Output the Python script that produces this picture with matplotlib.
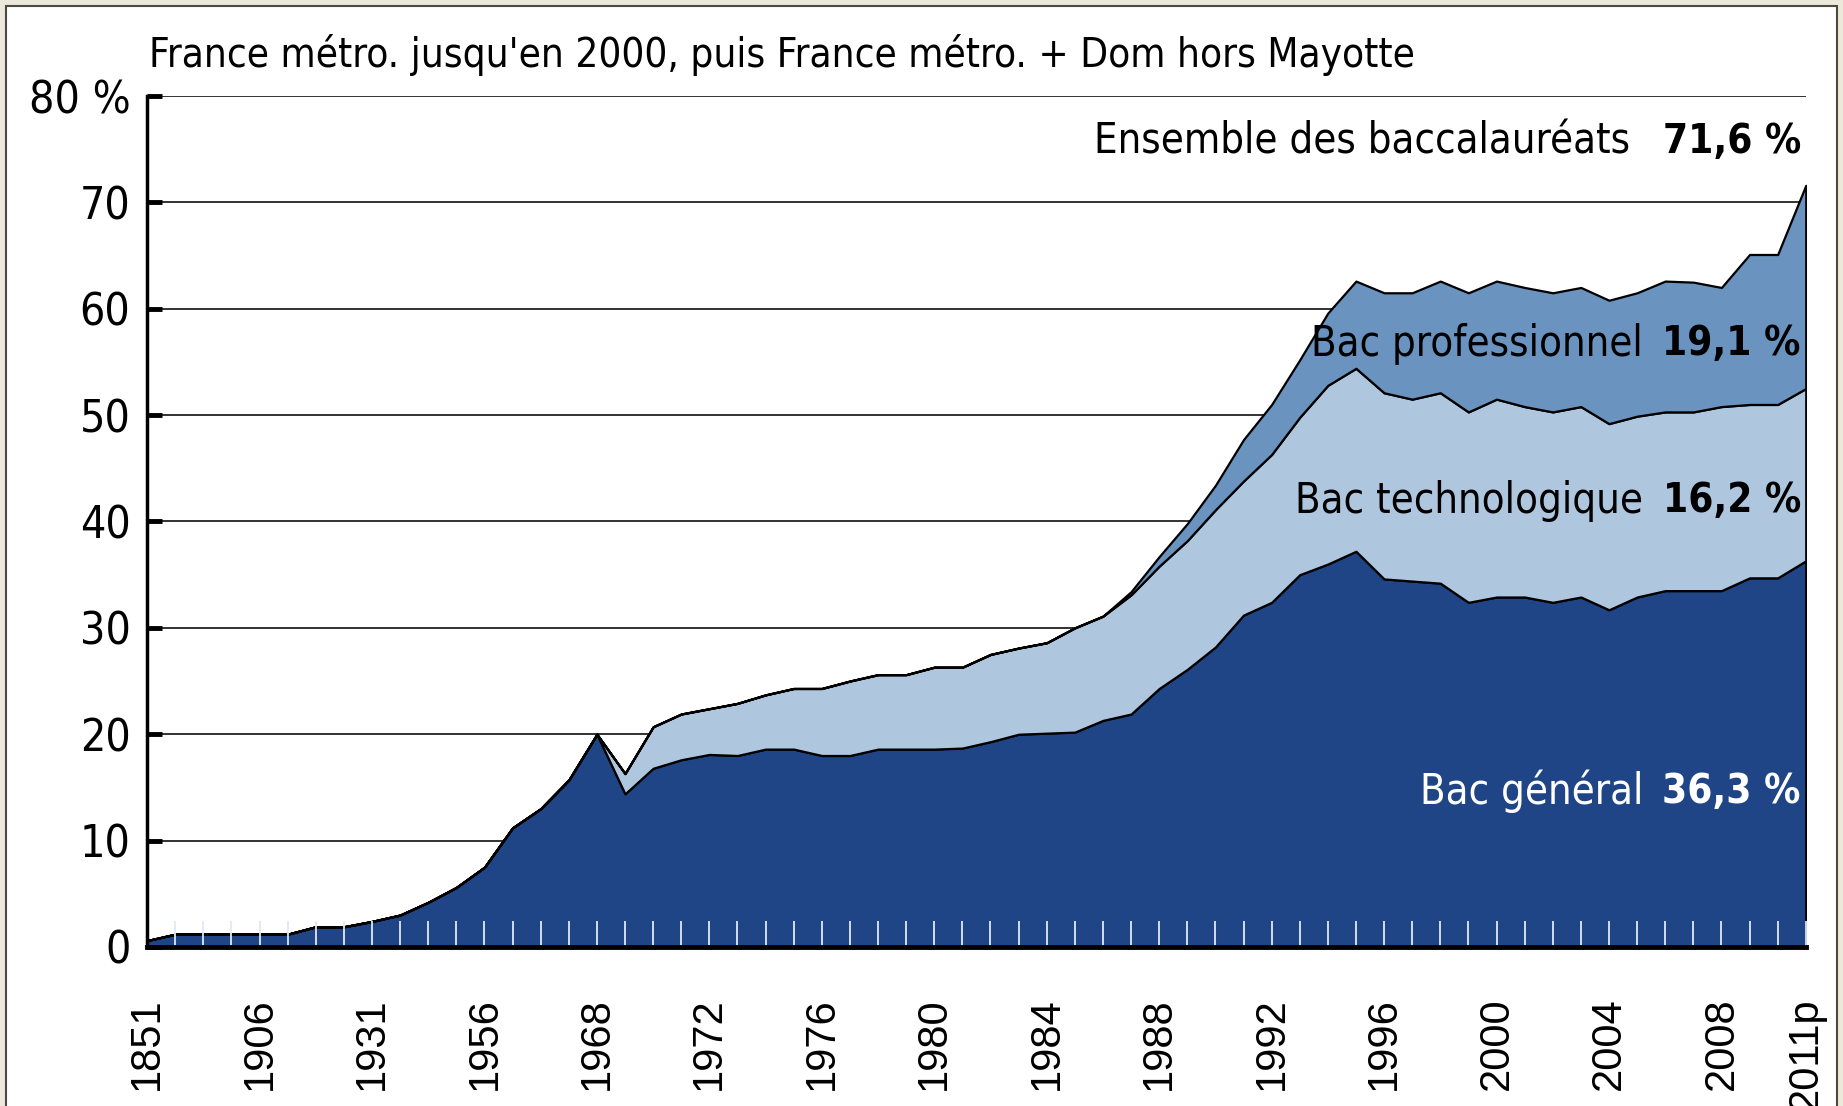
import matplotlib
matplotlib.use("Agg")
import matplotlib.pyplot as plt
from matplotlib import font_manager
from matplotlib.font_manager import FontProperties
from matplotlib.patches import Rectangle

# Étiquettes de l'axe des x (une position par point)
annees = ["1851", "", "", "", "1906", "", "", "", "1931", "", "", "", "1956",
          "", "", "", "1968", "", "", "", "1972", "", "", "", "1976", "", "",
          "", "1980", "", "", "", "1984", "", "", "", "1988", "", "", "",
          "1992", "", "", "", "1996", "", "", "", "2000", "", "", "", "2004",
          "", "", "", "2008", "", "", "2011p"]

# Proportion de bacheliers dans une génération (%)
bac_general = [0.6, 1.2, 1.2, 1.2, 1.2, 1.2, 1.9, 1.9, 2.4, 3.0,
               4.2, 5.6, 7.5, 11.2, 13.0, 15.7, 20.0, 14.4, 16.8, 17.6,
               18.1, 18.0, 18.6, 18.6, 18.0, 18.0, 18.6, 18.6, 18.6, 18.7,
               19.3, 20.0, 20.1, 20.2, 21.3, 21.9, 24.3, 26.1, 28.2, 31.2,
               32.4, 35.0, 36.0, 37.2, 34.6, 34.4, 34.2, 32.4, 32.9, 32.9,
               32.4, 32.9, 31.7, 32.9, 33.5, 33.5, 33.5, 34.7, 34.7, 36.3]
bac_techno = [0, 0, 0, 0, 0, 0, 0, 0, 0, 0,
              0, 0, 0, 0, 0, 0, 0, 1.9, 3.9, 4.3,
              4.3, 4.9, 5.1, 5.7, 6.3, 7.0, 7.0, 7.0, 7.7, 7.6,
              8.2, 8.1, 8.5, 9.8, 9.8, 11.2, 11.5, 12.1, 12.9, 12.6,
              13.9, 14.8, 16.8, 17.2, 17.5, 17.1, 17.9, 17.9, 18.6, 17.9,
              17.9, 17.9, 17.5, 17.0, 16.8, 16.8, 17.3, 16.3, 16.3, 16.2]
bac_pro = [0, 0, 0, 0, 0, 0, 0, 0, 0, 0,
           0, 0, 0, 0, 0, 0, 0, 0, 0, 0,
           0, 0, 0, 0, 0, 0, 0, 0, 0, 0,
           0, 0, 0, 0, 0, 0.3, 0.9, 1.6, 2.3, 3.9,
           4.7, 5.4, 6.8, 8.2, 9.4, 10.0, 10.5, 11.2, 11.1, 11.2,
           11.2, 11.2, 11.6, 11.6, 12.3, 12.2, 11.2, 14.1, 14.1, 19.1]

graduations = [0, 10, 20, 30, 40, 50, 60, 70, 80]
etiquettes_y = ["0", "10", "20", "30", "40", "50", "60", "70", "80 %"]

couleurs = ["#1f4587", "#afc7de", "#6a93bf"]

# Recherche d'une police étroite (condensed / narrow)
etroites = [f for f in font_manager.fontManager.ttflist
            if f.stretch in ("condensed", "semi-condensed", "extra-condensed")
            or "Narrow" in f.name or "Condensed" in f.name]
normal = [f for f in etroites if f.weight in (400, "normal", "regular") and f.style == "normal"]
gras = [f for f in etroites if f.weight in (700, "bold") and f.style == "normal"]
if normal:
    fp = lambda taille: FontProperties(fname=normal[0].fname, size=taille)
    fpb = (lambda taille: FontProperties(fname=gras[0].fname, size=taille)) if gras \
        else (lambda taille: FontProperties(fname=normal[0].fname, size=taille, weight="bold"))
    k = 1.0
else:
    fp = lambda taille: FontProperties(family="Roboto", size=taille)
    fpb = lambda taille: FontProperties(family="Roboto", size=taille, weight="bold")
    k = 0.9

x = list(range(len(annees)))

fig = plt.figure(figsize=(18.43, 11.06), dpi=100)
fig.patch.set_facecolor("#ece9da")
# cadre blanc
cadre = Rectangle((6 / 1843, -0.05), 1 - 12 / 1843, 1.05 - 6 / 1106,
                  transform=fig.transFigure, facecolor="white",
                  edgecolor="#4a4a40", linewidth=1.5, zorder=-10)
fig.patches.append(cadre)

ax = fig.add_axes([0.0798, 0.1438, 0.900, 0.7694])
ax.set_zorder(5)
ax.set_facecolor("none")

# lignes de grille derrière les aires
for g in graduations[1:]:
    ax.axhline(g, color="#222222", linewidth=1.3, zorder=0)

ax.stackplot(x, bac_general, bac_techno, bac_pro, colors=couleurs,
             edgecolor="black", linewidth=1.6, zorder=1)

ax.set_xlim(0, len(x) - 1)
ax.set_ylim(0, 80)

ax.set_xticks(x)
ax.set_xticklabels(annees, rotation=90, fontsize=30, family="Liberation Sans")
ax.tick_params(axis="x", direction="in", length=19, width=1.3,
               color="#dfe8f5", pad=36)
ax.set_yticks(graduations)
ax.set_yticklabels(etiquettes_y, fontproperties=fp(32 * k))
ax.tick_params(axis="y", direction="in", length=11, width=3.5,
               color="black", pad=12)

for s in ["top", "right"]:
    ax.spines[s].set_visible(False)
ax.spines["left"].set_linewidth(2.5)
ax.spines["bottom"].set_linewidth(3.5)

# légendes dans le graphique
tr = ax.get_yaxis_transform()
libelles = [("Ensemble des baccalauréats", "71,6 %", 75.7, "black", 0.894),
            ("Bac professionnel", "19,1 %", 56.7, "black", 0.902),
            ("Bac technologique", "16,2 %", 41.9, "black", 0.902),
            ("Bac général", "36,3 %", 14.6, "white", 0.902)]
for nom, val, y, c, xn in libelles:
    ax.text(xn, y, nom, transform=tr, ha="right", va="center",
            fontproperties=fp(30 * k), color=c, zorder=5)
    ax.text(0.997, y, val, transform=tr, ha="right", va="center",
            fontproperties=fpb(29 * k), color=c, zorder=5)

fig.text(0.081, 0.939, "France métro. jusqu'en 2000, puis France métro. + Dom hors Mayotte",
         ha="left", va="baseline", fontproperties=fp(29 * k))

fig.savefig("out.png", dpi=100, facecolor=fig.get_facecolor())
